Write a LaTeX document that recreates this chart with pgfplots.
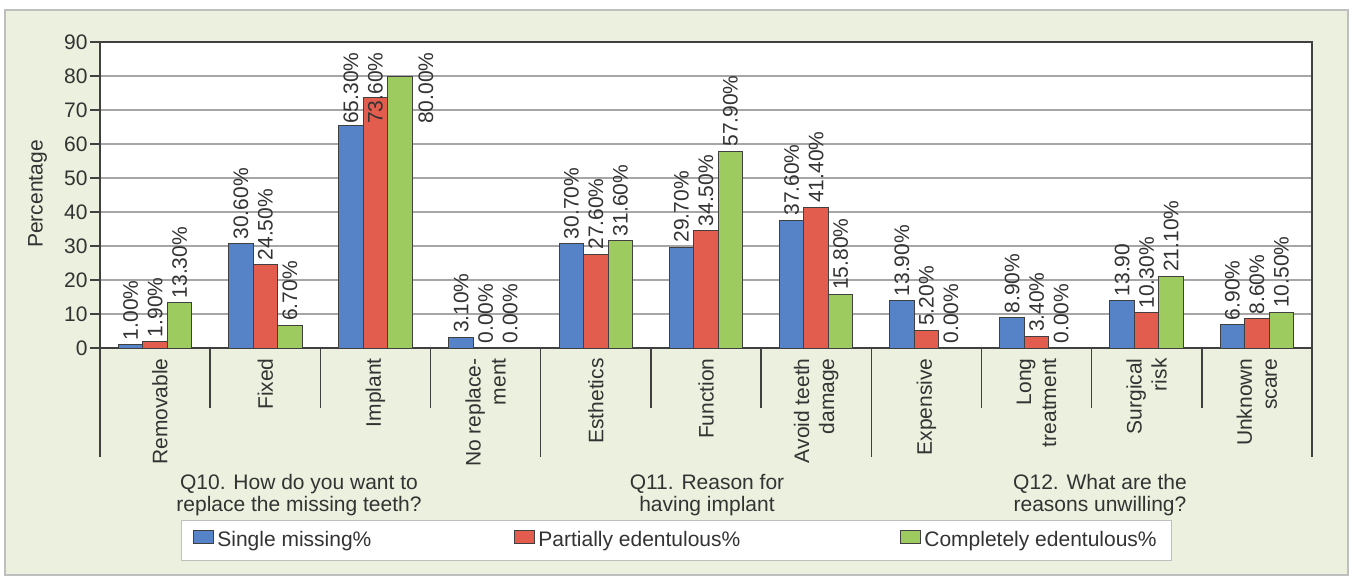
\documentclass[border=0pt]{standalone}
\usepackage{fontspec}
\setmainfont{Liberation Sans}
\usepackage{pgfplots}
\pgfplotsset{compat=1.18}
\definecolor{bgframe}{HTML}{EBF1DE}
\definecolor{frameline}{HTML}{BFBFBF}
\definecolor{axline}{HTML}{404040}
\definecolor{gridc}{HTML}{A6A6A6}
\definecolor{txt}{HTML}{333333}
\definecolor{sblue}{HTML}{5682C8}
\definecolor{sred}{HTML}{E35D4F}
\definecolor{sgreen}{HTML}{9DCB5F}
\begin{document}
\begin{tikzpicture}[font=\fontsize{10.5}{12.5}\selectfont, text=txt]
\path[use as bounding box] (0,0) rectangle (676.5pt,289.5pt);
\fill[white] (0,0) rectangle (676.5pt,289.5pt);
\draw[frameline, fill=bgframe, line width=1pt] (2.5pt,2pt) rectangle (674pt,284.5pt);
\begin{axis}[
  at={(50pt,115.5pt)}, anchor=south west,
  scale only axis, width=606pt, height=153pt,
  clip=false,
  xmin=-0.5, xmax=10.5, ymin=0, ymax=90,
  ytick={0,10,...,90},
  ymajorgrids, grid style={gridc, line width=0.9pt},
  axis line style={axline, line width=0.7pt},
  axis background/.style={fill=white},
  tick align=outside, ytick pos=left,
  major tick length=5pt,
  tick style={axline, line width=0.7pt},
  yticklabel style={inner sep=1pt, font=\fontsize{10.5}{12.5}\selectfont},
  /pgf/number format/assume math mode=true,
  xtick={0,...,10},
  xticklabels={{\mbox{}\\Removable}, Fixed, Implant, {No replace-\\ment}, Esthetics, Function, {Avoid teeth\\damage}, Expensive, {Long\\treatment}, {Surgical\\risk}, {Unknown\\scare}},
  x tick style={draw=none},
  xticklabel style={rotate=90, anchor=east, align=right, inner sep=0pt, font=\fontsize{10.5}{12.5}\selectfont},
  ybar=0pt, bar width=12.25pt,
  point meta=explicit symbolic,
  nodes near coords,
  every node near coord/.append style={rotate=90, anchor=west, inner sep=2pt, font=\fontsize{10.5}{12.5}\selectfont, text=txt},
  legend image code/.code={\draw[#1, draw=axline, line width=0.5pt] (0pt,-1.5pt) rectangle (10pt,5pt);},
  legend style={at={(0.0668,-0.562)}, anchor=north west, draw=frameline, fill=white,
    legend columns=3, inner xsep=6pt, inner ysep=4pt,
    nodes={inner sep=1.5pt, text=txt},
    font=\fontsize{10.5}{12.5}\selectfont,
    /tikz/column 2/.style={column sep=70pt},
    /tikz/column 4/.style={column sep=78.5pt}},
  legend cell align=left,
]
\addplot[draw=axline, line width=0.5pt, fill=sblue] coordinates {
 (0,1.00) [1.00\%] (1,30.60) [30.60\%] (2,65.30) [] (3,3.10) [3.10\%]
 (4,30.70) [30.70\%] (5,29.70) [29.70\%] (6,37.60) [37.60\%] (7,13.90) [13.90\%]
 (8,8.90) [8.90\%] (9,13.90) [13.90] (10,6.90) [6.90\%]};
\addplot[draw=axline, line width=0.5pt, fill=sred] coordinates {
 (0,1.90) [1.90\%] (1,24.50) [24.50\%] (2,73.60) [] (3,0.00) [0.00\%]
 (4,27.60) [27.60\%] (5,34.50) [34.50\%] (6,41.40) [41.40\%] (7,5.20) [5.20\%]
 (8,3.40) [3.40\%] (9,10.30) [10.30\%] (10,8.60) [8.60\%]};
\addplot[draw=axline, line width=0.5pt, fill=sgreen] coordinates {
 (0,13.30) [13.30\%] (1,6.70) [6.70\%] (2,80.00) [] (3,0.00) [0.00\%]
 (4,31.60) [31.60\%] (5,57.90) [57.90\%] (6,15.80) [15.80\%] (7,0.00) [0.00\%]
 (8,0.00) [0.00\%] (9,21.10) [21.10\%] (10,10.50) [10.50\%]};
\legend{Single missing\%, Partially edentulous\%, Completely edentulous\%}
\node[rotate=90, anchor=east, inner sep=0pt] at (axis cs:1.7776,87.0) {65.30\%};
\node[rotate=90, anchor=east, inner sep=0pt] at (axis cs:2.0,87.0) {73.60\%};
\node[rotate=90, anchor=east, inner sep=0pt] at (axis cs:2.458,87.0) {80.00\%};
\pgfplotsinvokeforeach{0.5,1.5,2.5,4.5,5.5,7.5,8.5,9.5}{\draw[axline, line width=0.7pt] (axis cs:#1,0) -- ++(0pt,-30pt);}
\pgfplotsinvokeforeach{-0.5,3.5,6.5,10.5}{\draw[axline, line width=0.7pt] (axis cs:#1,0) -- ++(0pt,-54.5pt);}
\end{axis}
\node[rotate=90] at (18.75pt,192.5pt) {Percentage};
\node[align=center, anchor=north, inner sep=0pt, font=\fontsize{10.5}{11}\selectfont] at (149.5pt,52.5pt) {Q10. How do you want to\\replace the missing teeth?};
\node[align=center, anchor=north, inner sep=0pt, font=\fontsize{10.5}{11}\selectfont] at (353.5pt,52.5pt) {Q11. Reason for\\having implant};
\node[align=center, anchor=north, inner sep=0pt, font=\fontsize{10.5}{11}\selectfont] at (550pt,52.5pt) {Q12. What are the\\reasons unwilling?};
\end{tikzpicture}
\end{document}
